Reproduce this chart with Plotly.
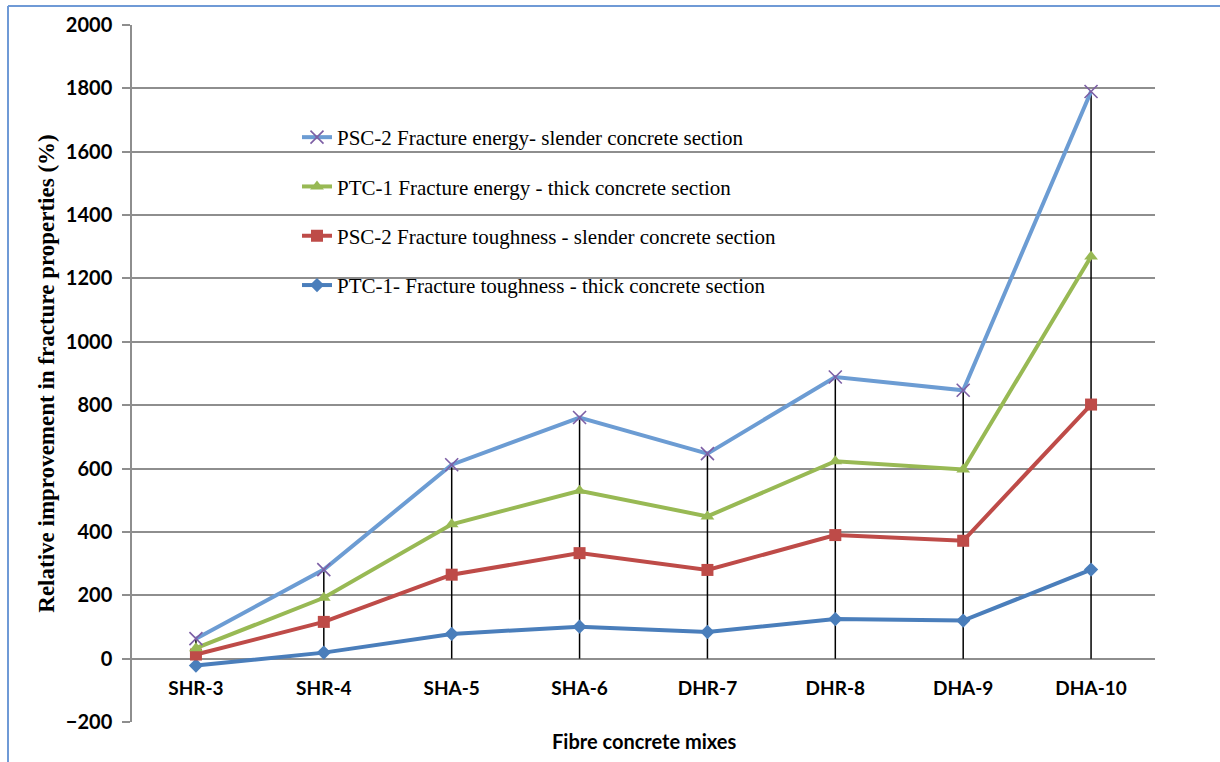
import plotly.graph_objects as go

categories = ["SHR-3", "SHR-4", "SHA-5", "SHA-6", "DHR-7", "DHR-8", "DHA-9", "DHA-10"]
ptc1_toughness = [-22, 19, 78, 101, 84, 125, 120, 281]
psc2_toughness = [13, 116, 265, 333, 280, 390, 372, 802]
ptc1_energy = [33, 192, 424, 530, 449, 623, 597, 1269]
psc2_energy = [63, 281, 612, 761, 647, 889, 847, 1790]

y_ticks = list(range(-200, 2001, 200))

series = [
    ("PTC-1- Fracture toughness - thick concrete section", ptc1_toughness, "#4A7EBB", "#4A7EBB", "diamond", 11, 4),
    ("PSC-2 Fracture toughness - slender concrete section", psc2_toughness, "#BE4B48", "#BE4B48", "square", 12, 3),
    ("PTC-1 Fracture energy - thick concrete section", ptc1_energy, "#98B954", "#98B954", "triangle-up", 12, 2),
    ("PSC-2 Fracture energy- slender concrete section", psc2_energy, "#6C9CD3", "#7D5FA5", "x-thin", 13, 1),
]

fig = go.Figure()

# drop lines from highest point to the category axis
all_vals = [ptc1_toughness, psc2_toughness, ptc1_energy, psc2_energy]
dx, dy = [], []
for i, c in enumerate(categories):
    vals = [s[i] for s in all_vals]
    dx += [c, c, None]
    dy += [max(vals), min(0, min(vals)), None]
fig.add_trace(go.Scatter(x=dx, y=dy, mode="lines", line=dict(color="black", width=1.5),
                         showlegend=False, hoverinfo="skip"))

for name, vals, lc, mc, sym, sz, rank in series:
    marker = dict(symbol=sym, size=sz, color=mc)
    if sym == "x-thin":
        marker["line"] = dict(color=mc, width=1.6)
    fig.add_trace(go.Scatter(
        x=categories, y=vals, name=name, mode="lines+markers",
        line=dict(color=lc, width=4), marker=marker, legendgroup=name,
        legendrank=rank,
    ))

W, H = 1220, 762
L, R, T, B = 132, 65, 25, 40
pw, ph = W - L - R, H - T - B

def px_x(p):
    return (p - L) / pw

def px_y(p):
    return (H - B - p) / ph

fig.update_layout(
    width=W, height=H,
    margin=dict(l=L, r=R, t=T, b=B, autoexpand=False),
    paper_bgcolor="white", plot_bgcolor="white",
    font=dict(family="Lato", color="black"),
    legend=dict(
        x=px_x(297), y=px_y(117), xanchor="left", yanchor="top",
        bgcolor="rgba(0,0,0,0)", traceorder="grouped", tracegroupgap=19,
        font=dict(family="Liberation Serif", size=21, color="black"),
    ),
    xaxis=dict(
        type="category", range=[-0.5, 7.5], showgrid=False, showline=False,
        ticks="", anchor="free", position=200 / 2200,
        tickfont=dict(family="Lato", size=19, weight="bold", color="black"),
        ticklabelstandoff=16, zeroline=False,
    ),
    yaxis=dict(
        range=[-200, 2000], tickvals=y_ticks, domain=[0, 1],
        showgrid=True, gridcolor="#8E8E8E", gridwidth=1.5,
        showline=True, linecolor="#8E8E8E", linewidth=1.5,
        ticks="outside", ticklen=8, tickcolor="#8E8E8E", tickwidth=1.5,
        tickfont=dict(family="Lato", size=20, weight="bold", color="black"),
        ticklabelstandoff=6, zeroline=False,
        title=dict(text="Relative improvement in fracture properties (%)",
                   font=dict(family="Liberation Serif", size=23, weight="bold", color="black"),
                   standoff=5),
    ),
    annotations=[dict(
        text="Fibre concrete mixes", xref="paper", yref="paper",
        x=0.5, y=px_y(741), xanchor="center", yanchor="middle", showarrow=False,
        font=dict(family="Lato", size=20, weight="bold", color="black"),
    )],
    shapes=[
        dict(type="line", xref="paper", yref="paper", x0=px_x(8), x1=px_x(8),
             y0=px_y(6), y1=px_y(800), line=dict(color="#6F9AD6", width=2)),
        dict(type="line", xref="paper", yref="paper", x0=px_x(8), x1=px_x(1260),
             y0=px_y(6), y1=px_y(6), line=dict(color="#6F9AD6", width=2)),
    ],
)

fig.write_html("out.html", config={"displayModeBar": False},
               post_script="document.body.style.margin='0';")
